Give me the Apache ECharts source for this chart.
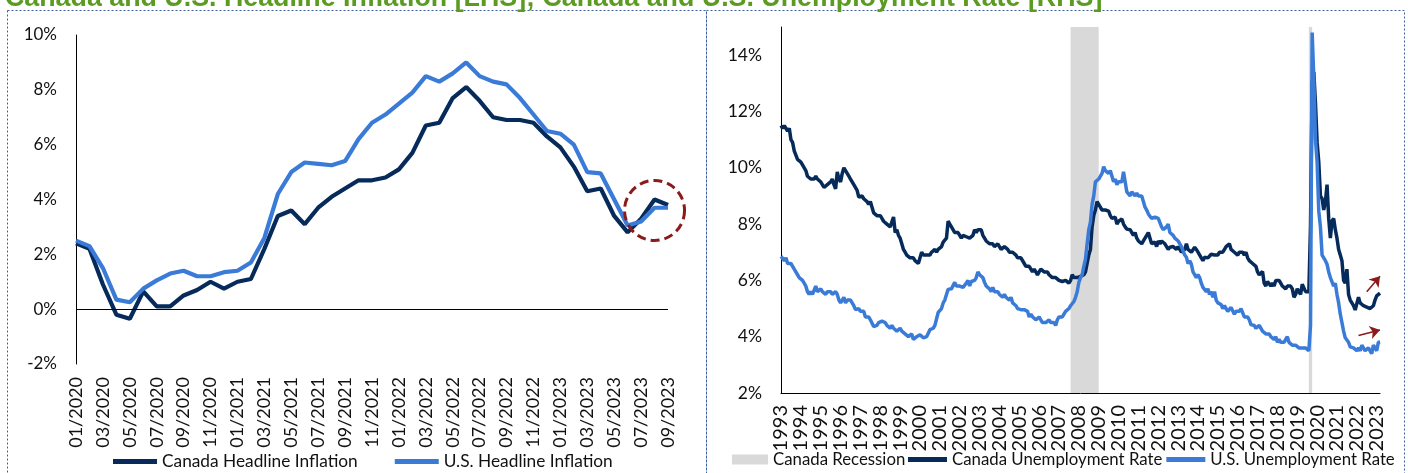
<!DOCTYPE html>
<html><head><meta charset="utf-8">
<script src="https://cdn.jsdelivr.net/npm/echarts@6/dist/echarts.min.js"></script>
<style>html,body{margin:0;padding:0;background:#fff}#c{width:1408px;height:473px}</style>
</head><body><div id="c"></div>
<script>
// ---------- LEFT: headline inflation (y/y %), 01/2020 - 09/2023 ----------
const inflMonths = ['01/2020','02/2020','03/2020','04/2020','05/2020','06/2020','07/2020','08/2020','09/2020','10/2020','11/2020','12/2020',
  '01/2021','02/2021','03/2021','04/2021','05/2021','06/2021','07/2021','08/2021','09/2021','10/2021','11/2021','12/2021',
  '01/2022','02/2022','03/2022','04/2022','05/2022','06/2022','07/2022','08/2022','09/2022','10/2022','11/2022','12/2022',
  '01/2023','02/2023','03/2023','04/2023','05/2023','06/2023','07/2023','08/2023','09/2023'];
const canadaCPI = [2.4,2.2,0.9,-0.2,-0.35,0.65,0.1,0.1,0.5,0.7,1.0,0.75,1.0,1.1,2.2,3.4,3.6,3.1,3.7,4.1,4.4,4.7,4.7,4.8,
  5.1,5.7,6.7,6.8,7.7,8.1,7.6,7.0,6.9,6.9,6.8,6.3,5.9,5.2,4.3,4.4,3.4,2.8,3.3,4.0,3.8];
const usCPI = [2.5,2.3,1.5,0.35,0.25,0.75,1.05,1.3,1.4,1.2,1.2,1.35,1.4,1.7,2.6,4.2,5.0,5.35,5.3,5.25,5.4,6.2,6.8,7.1,
  7.5,7.9,8.5,8.3,8.6,9.0,8.5,8.3,8.2,7.7,7.1,6.5,6.4,6.0,5.0,4.95,4.0,3.05,3.2,3.7,3.7];

// ---------- RIGHT: unemployment rate (%), monthly 07/1993 - 09/2023 ----------
const urStart = [1993, 7];
const canadaUR = [
  11.5,11.4,11.5,11.4,11.3,11.4,
  11.0,10.9,10.6,10.6,10.3,10.3,10.2,10.1,10.1,9.9,9.7,9.7,
  9.6,9.6,9.6,9.7,9.6,9.6,9.5,9.5,9.3,9.3,9.4,9.4,
  9.5,9.6,9.4,9.25,9.85,9.6,9.5,9.8,10.0,9.9,9.8,9.7,
  9.6,9.5,9.4,9.35,9.2,8.96,9.0,9.0,8.9,8.9,8.8,8.7,
  8.8,8.6,8.4,8.4,8.3,8.3,8.3,8.2,8.1,8.1,8.0,8.0,
  7.9,7.9,8.25,7.7,7.8,7.6,7.5,7.3,7.1,7.0,6.9,6.85,
  6.8,6.8,6.8,6.7,6.7,6.6,6.8,7.0,6.9,6.86,6.9,6.9,
  6.9,7.0,7.0,7.1,7.0,7.1,7.1,7.2,7.36,7.3,7.5,8.1,
  8.0,7.9,7.9,7.7,7.7,7.7,7.6,7.5,7.6,7.6,7.55,7.5,
  7.5,7.5,7.6,7.8,7.7,7.8,7.8,7.8,7.6,7.5,7.4,7.35,
  7.3,7.3,7.3,7.2,7.2,7.3,7.2,7.1,7.1,7.2,7.2,7.1,
  7.0,7.0,7.0,7.04,6.9,6.8,6.8,6.8,6.75,6.6,6.5,6.57,
  6.5,6.4,6.3,6.4,6.3,6.2,6.3,6.4,6.46,6.3,6.3,6.3,
  6.2,6.2,6.1,6.14,6.1,6.1,6.0,6.0,5.96,5.9,6.0,6.04,
  5.9,6.0,6.2,6.1,6.1,6.1,6.1,6.14,6.1,6.2,6.3,6.6,
  6.9,7.1,7.9,8.3,8.5,8.8,8.7,8.6,8.5,8.5,8.5,8.5,
  8.46,8.3,8.2,8.2,8.25,8.0,8.1,8.1,8.18,8.0,7.9,7.82,
  7.8,7.8,7.7,7.6,7.7,7.5,7.4,7.4,7.3,7.4,7.5,7.5,
  7.7,7.5,7.3,7.3,7.36,7.2,7.4,7.3,7.4,7.46,7.3,7.2,
  7.1,7.18,7.2,7.2,7.18,7.1,7.2,7.1,7.0,7.0,7.1,7.3,
  7.1,7.1,7.0,7.0,7.18,7.1,7.0,7.0,6.8,6.7,6.82,6.8,
  6.8,6.8,6.93,6.9,6.9,6.9,6.9,7.0,7.0,7.0,7.1,7.2,
  7.2,7.3,7.1,7.1,7.0,7.04,6.9,7.0,7.0,7.0,6.9,7.0,
  6.8,6.7,6.7,6.6,6.57,6.5,6.3,6.2,6.2,6.32,5.9,5.8,
  5.96,5.9,5.8,5.9,5.8,6.0,5.96,6.0,5.9,5.8,5.8,5.7,
  5.8,5.8,5.8,5.7,5.4,5.5,5.7,5.7,5.5,5.86,5.9,5.6,
  5.6,5.6,7.9,13.0,13.4,12.3,10.9,10.2,9.0,8.9,8.5,8.8,
  9.4,8.2,7.5,8.1,8.2,7.8,7.5,7.1,6.9,6.7,6.0,5.9,
  6.4,5.5,5.3,5.2,5.1,4.95,4.95,5.4,5.2,5.2,5.1,5.05,
  5.05,5.0,5.0,5.05,5.1,5.3,5.45,5.5,5.55];
const usUR = [
  6.85,6.8,6.7,6.8,6.6,6.6,
  6.6,6.6,6.4,6.4,6.2,6.1,6.1,6.0,5.9,5.8,5.6,5.5,
  5.6,5.5,5.5,5.8,5.6,5.6,5.7,5.6,5.6,5.5,5.6,5.6,
  5.6,5.5,5.5,5.6,5.5,5.3,5.2,5.2,5.4,5.2,5.3,5.3,
  5.3,5.2,5.1,4.96,4.9,5.0,4.9,4.86,4.9,4.7,4.68,4.7,
  4.6,4.6,4.36,4.4,4.4,4.5,4.5,4.55,4.6,4.5,4.4,4.36,
  4.3,4.4,4.3,4.3,4.2,4.14,4.3,4.2,4.2,4.1,4.1,4.0,
  4.0,4.1,3.9,3.85,4.0,4.0,4.07,4.0,3.96,3.9,4.0,4.0,
  4.25,4.2,4.3,4.4,4.43,4.86,4.9,5.0,5.2,5.3,5.5,5.68,
  5.7,5.7,5.75,5.93,5.8,5.8,5.8,5.75,5.75,5.7,5.9,6.0,
  5.8,5.96,5.9,6.0,6.1,6.3,6.2,6.14,6.1,5.93,5.8,5.75,
  5.7,5.6,5.75,5.6,5.57,5.6,5.5,5.43,5.4,5.5,5.4,5.4,
  5.3,5.4,5.2,5.2,5.1,5.0,5.0,4.96,5.0,4.96,5.0,4.9,
  4.7,4.8,4.71,4.7,4.6,4.6,4.7,4.6,4.5,4.5,4.5,4.5,
  4.6,4.5,4.5,4.5,4.4,4.6,4.7,4.68,4.7,4.8,4.9,4.9,
  5.0,5.1,5.1,5.25,5.4,5.6,5.93,6.1,6.2,6.5,6.75,7.3,
  7.8,8.07,8.7,9.0,9.5,9.5,9.6,9.6,9.8,10.04,9.9,9.9,
  9.8,9.9,9.9,9.5,9.6,9.4,9.5,9.54,9.5,9.86,9.8,9.14,
  9.1,9.0,9.14,9.1,9.0,9.1,9.0,9.0,9.0,8.8,8.6,8.5,
  8.36,8.3,8.2,8.2,8.25,8.2,8.2,8.18,7.9,7.8,7.75,7.9,
  8.0,7.7,7.64,7.6,7.5,7.5,7.4,7.3,7.2,7.2,6.9,6.82,
  6.6,6.7,6.57,6.3,6.28,6.1,6.2,6.1,5.9,5.75,5.8,5.6,
  5.7,5.5,5.6,5.4,5.6,5.3,5.2,5.2,5.14,5.0,5.1,5.0,
  4.9,4.9,5.04,5.0,4.8,4.9,4.9,4.9,5.0,5.04,4.7,4.71,
  4.7,4.6,4.43,4.4,4.4,4.3,4.32,4.4,4.3,4.2,4.2,4.1,
  4.07,4.1,4.0,4.0,3.9,4.0,3.8,3.9,3.8,3.82,3.8,3.9,
  4.0,3.8,3.8,3.7,3.64,3.7,3.71,3.6,3.6,3.6,3.6,3.6,
  3.55,3.5,4.4,14.8,13.2,11.0,10.2,8.46,7.9,6.9,6.8,6.7,
  6.57,6.3,6.1,6.1,5.8,5.9,5.5,5.2,4.8,4.5,4.2,3.96,
  4.0,3.8,3.64,3.7,3.6,3.6,3.5,3.6,3.5,3.7,3.6,3.5,
  3.43,3.6,3.5,3.4,3.7,3.6,3.5,3.8,3.82];
const yearLabelStep = 12;
const recessions = [['2008-02','2009-07'],['2020-02','2020-04']];
const arrowCanada = [['2023-01',5.6],['2023-09',6.15]];
const arrowUS = [['2022-08',4.04],['2023-09',4.24]];
const circleAt = ['08/2023',3.6];

// category list for monthly axis
const urMonths = [];
for (let i = 0; i < canadaUR.length; i++) {
  const m = urStart[1] - 1 + i;
  const y = urStart[0] + Math.floor(m / 12);
  const mm = (m % 12) + 1;
  urMonths.push(y + '-' + (mm < 10 ? '0' + mm : mm));
}

const FONT = 'Lato';
const TXT = '#111';
const CAN = '#062a5a', US = '#3a7bd8', RED = '#8b1a1a', GREY = '#d9d9d9';
const ts = size => ({fontFamily: FONT, fontSize: size, color: TXT});

const chart = echarts.init(document.getElementById('c'), null, {renderer: 'canvas'});
chart.setOption({
  animation: false,
  textStyle: {fontFamily: FONT},
  graphic: [
    {type: 'rect', shape: {x: 7.5, y: 10.5, width: 699, height: 480}, style: {fill: 'none', stroke: '#3f5f9f', lineWidth: 1, lineDash: [2, 2]}, silent: true, z: 0},
    {type: 'rect', shape: {x: 706.5, y: 10.5, width: 698, height: 480}, style: {fill: 'none', stroke: '#3f5f9f', lineWidth: 1, lineDash: [2, 2]}, silent: true, z: 0},
    {type: 'text', x: 5, y: -15, silent: true, style: {text: 'Canada and U.S. Headline Inflation [LHS]; Canada and U.S. Unemployment Rate [RHS]', font: 'bold 26.8px "Liberation Sans"', fill: '#5b9b22', verticalAlign: 'top'}}
  ],
  legend: [
    {left: 113, top: 453, padding: 0, itemWidth: 44, itemHeight: 5, itemGap: 37, icon: 'rect', textStyle: ts(17.3),
     data: ['Canada Headline Inflation', 'U.S. Headline Inflation']},
    {left: 732, top: 451, padding: 0, itemWidth: 36, itemHeight: 10, icon: 'rect', textStyle: ts(16.8),
     data: ['Canada Recession']},
    {left: 908, top: 451, padding: 0, itemWidth: 39, itemHeight: 5, itemGap: 4, icon: 'rect', textStyle: ts(16.8),
     data: ['Canada Unemployment Rate', 'U.S. Unemployment Rate']}
  ],
  grid: [
    {left: 76, top: 35, width: 592, height: 329},
    {left: 781, top: 27, width: 599, height: 366}
  ],
  xAxis: [
    {gridIndex: 0, type: 'category', data: inflMonths, boundaryGap: false,
     axisLine: {show: false}, axisTick: {show: false},
     axisLabel: Object.assign({interval: 1, rotate: 90, margin: 13}, ts(18))},
    {gridIndex: 1, type: 'category', data: urMonths, boundaryGap: false,
     axisLine: {show: true, onZero: false, lineStyle: {color: '#000', width: 1}}, axisTick: {show: false},
     axisLabel: Object.assign({interval: yearLabelStep - 1, rotate: 90, margin: 12, formatter: v => v.slice(0, 4)}, ts(20))}
  ],
  yAxis: [
    {gridIndex: 0, type: 'value', min: -2, max: 10, interval: 2,
     axisLine: {show: true, lineStyle: {color: '#000', width: 1}}, axisTick: {show: false}, splitLine: {show: false},
     axisLabel: Object.assign({formatter: '{value}%', margin: 19}, ts(17))},
    {gridIndex: 1, type: 'value', min: 2, max: 15, interval: 2,
     axisLine: {show: true, lineStyle: {color: '#000', width: 1}}, axisTick: {show: false}, splitLine: {show: false},
     axisLabel: Object.assign({formatter: '{value}%', margin: 19, showMaxLabel: false}, ts(17.5))}
  ],
  series: [
    {name: 'Canada Headline Inflation', type: 'line', xAxisIndex: 0, yAxisIndex: 0, data: canadaCPI,
     symbol: 'none', color: CAN, lineStyle: {width: 4.2, color: CAN},
     markLine: {silent: true, symbol: ['none', 'none'], label: {show: false}, lineStyle: {color: '#000', width: 1, type: 'solid'},
                data: [{yAxis: 0}]}},
    {name: 'U.S. Headline Inflation', type: 'line', xAxisIndex: 0, yAxisIndex: 0, data: usCPI,
     symbol: 'none', color: US, lineStyle: {width: 4.2, color: US},
     markPoint: {silent: true, symbol: 'circle', symbolSize: 60, label: {show: false},
                 itemStyle: {color: 'rgba(0,0,0,0)', borderColor: RED, borderWidth: 3, borderType: [9, 5]},
                 data: [{coord: circleAt}]}},
    {name: 'Canada Recession', type: 'line', xAxisIndex: 1, yAxisIndex: 1, data: [], symbol: 'none', color: GREY,
     markArea: {silent: true, itemStyle: {color: GREY}, data: recessions.map(r => [{xAxis: r[0]}, {xAxis: r[1]}])}},
    {name: 'Canada Unemployment Rate', type: 'line', xAxisIndex: 1, yAxisIndex: 1, data: canadaUR,
     symbol: 'none', color: CAN, lineStyle: {width: 3.5, color: CAN},
     markLine: {silent: true, symbol: ['none', 'arrow'], symbolSize: 10, label: {show: false},
                lineStyle: {color: RED, width: 1.5, type: 'solid'},
                data: [[{coord: arrowCanada[0]}, {coord: arrowCanada[1]}]]}},
    {name: 'U.S. Unemployment Rate', type: 'line', xAxisIndex: 1, yAxisIndex: 1, data: usUR,
     symbol: 'none', color: US, lineStyle: {width: 3.5, color: US},
     markLine: {silent: true, symbol: ['none', 'arrow'], symbolSize: 10, label: {show: false},
                lineStyle: {color: RED, width: 1.5, type: 'solid'},
                data: [[{coord: arrowUS[0]}, {coord: arrowUS[1]}]]}}
  ]
});
</script>
</body></html>
